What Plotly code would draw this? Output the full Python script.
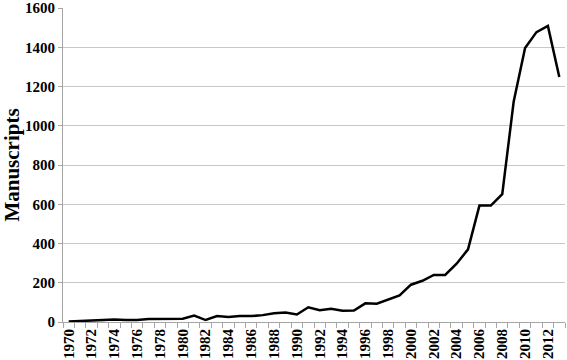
import plotly.graph_objects as go

years = list(range(1970, 2014))
manuscripts = [2, 5, 8, 8, 13, 10, 10, 15, 16, 14, 17, 33, 10, 30, 25, 30, 30, 35, 45, 48,
               38, 75, 60, 68, 57, 58, 95, 93, 115, 135, 190, 210, 240, 240, 297, 370, 593, 593, 652, 1122,
               1396, 1477, 1509, 1248]
tick_years = list(range(1970, 2014, 2))
y_ticks = list(range(0, 1601, 200))

fig = go.Figure()
fig.add_trace(go.Scatter(x=years, y=manuscripts, mode="lines",
                         line=dict(color="black", width=2.5), hoverinfo="x+y"))

font = "Liberation Serif, Times New Roman, serif"
fig.update_layout(
    width=567, height=360,
    margin=dict(l=63, r=2, t=8, b=38),
    paper_bgcolor="white", plot_bgcolor="white",
    showlegend=False,
    font=dict(family=font, color="black"),
    xaxis=dict(
        range=[1969.5, 2013.5], automargin=False,
        tickvals=tick_years, ticktext=[f"<b>{y}</b>" for y in tick_years],
        tickangle=-90, ticks="", showgrid=False, ticklabeloverflow="allow",
        tickfont=dict(family=font, size=15, color="black"),
        showline=True, linecolor="#a6a6a6", linewidth=1,
        minor=dict(tick0=1969.5, dtick=1, ticks="outside", ticklen=5, tickcolor="#a6a6a6", showgrid=False),
        zeroline=False,
    ),
    yaxis=dict(
        range=[0, 1600], tickvals=y_ticks, ticktext=[f"<b>{v}</b>" for v in y_ticks],
        automargin=False, ticklabeloverflow="allow",
        showgrid=True, gridcolor="#c8c8c8", gridwidth=1,
        showline=True, linecolor="#a6a6a6", linewidth=1,
        ticks="outside", ticklen=4, tickcolor="#a6a6a6",
        tickfont=dict(family=font, size=15, color="black"),
        title=dict(text="<b>Manuscripts</b>", font=dict(family=font, size=21, color="black"), standoff=7),
        zeroline=False,
    ),
)
fig.write_html("out.html", config={"displayModeBar": False},
               post_script="document.body.style.margin='0';document.body.style.padding='0';document.body.style.overflow='hidden';")
